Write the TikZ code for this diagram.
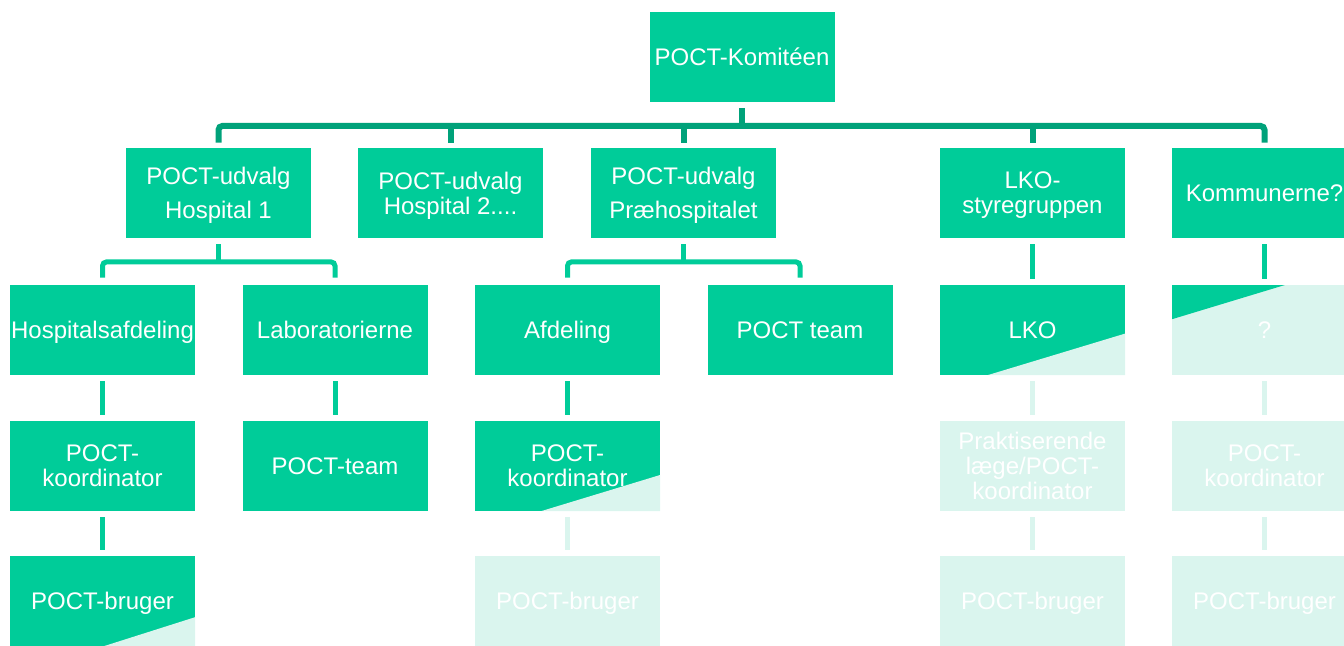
\documentclass[tikz,border=0pt]{standalone}
\usepackage{fontspec}
\setmainfont{Liberation Sans}
\usetikzlibrary{calc}
\definecolor{pgreen}{HTML}{00CC99}
\definecolor{pdark}{HTML}{00A27A}
\definecolor{pfade}{HTML}{DAF5EE}
\begin{document}
\begin{tikzpicture}[x=0.5pt,y=-0.5pt,
  box/.style={fill=pgreen, text=white, minimum width=92.5pt, minimum height=45pt,
    inner sep=0pt, align=center, text depth=0pt, font=\fontsize{12pt}{12.5pt}\selectfont},
  fadebox/.style={box, fill=pfade},
  cut/.style 2 args={path picture={\fill[pfade]
    ($(path picture bounding box.south west)!#1!(path picture bounding box.south east)$)
    -- (path picture bounding box.south east)
    -- ($(path picture bounding box.south east)!#2!(path picture bounding box.north east)$) -- cycle;}},
  cutinv/.style 2 args={path picture={\fill[pgreen]
    (path picture bounding box.north west)
    -- ($(path picture bounding box.north west)!#1!(path picture bounding box.north east)$)
    -- ($(path picture bounding box.north west)!#2!(path picture bounding box.south west)$) -- cycle;}},
  topline/.style={draw=pdark, line width=3pt},
  subline/.style={draw=pgreen, line width=2.5pt},
  fadeline/.style={draw=pfade, line width=2.5pt}]
\useasboundingbox (0,0) rectangle (1344,645);

% nodes
\node[box] (top) at (742,56.5) {POCT-Komitéen};
\node[box] (h1) at (218.5,193) {POCT-udvalg\\[4.5pt]Hospital 1};
\node[box] (h2) at (450.5,193) {POCT-udvalg\\Hospital 2....};
\node[box] (pr) at (683.5,193) {POCT-udvalg\\[4.5pt]Præhospitalet};
\node[box] (lkos) at (1032.5,193) {LKO-\\styregruppen};
\node[box] (kom) at (1264.5,193) {Kommunerne?};

\node[box] (ha) at (102.5,330) {Hospitalsafdeling};
\node[box] (lab) at (335,330) {Laboratorierne};
\node[box] (afd) at (567.5,330) {Afdeling};
\node[box] (pt) at (800,330) {POCT team};
\node[box, cut={0.26}{0.46}] (lko) at (1032.5,330) {LKO};
\node[fadebox, cutinv={0.61}{0.38}] (q) at (1264.5,330) {?};

\node[box] (k1) at (102.5,466) {POCT-\\koordinator};
\node[box] (lt) at (335,466) {POCT-team};
\node[box, cut={0.36}{0.40}] (k2) at (567.5,466) {POCT-\\koordinator};
\node[fadebox] (k3) at (1032.5,466) {Praktiserende\\læge/POCT-\\koordinator};
\node[fadebox] (k4) at (1264.5,466) {POCT-\\koordinator};

\node[box, cut={0.51}{0.32}] (b1) at (102.5,601) {POCT-bruger};
\node[fadebox] (b2) at (567.5,601) {POCT-bruger};
\node[fadebox] (b3) at (1032.5,601) {POCT-bruger};
\node[fadebox] (b4) at (1264.5,601) {POCT-bruger};

% top tree
\coordinate (bus) at ($(top.south)+(0,24)$);
\draw[topline] ($(top.south)+(0,6)$) -- (bus);
\draw[topline, rounded corners=2pt] ($(h1.north)+(0,-5)$) |- (bus) -| ($(kom.north)+(0,-5)$);
\foreach \n in {h2,pr,lkos} \draw[topline] (\n |- bus) -- ($(\n.north)+(0,-5)$);

% sub trees
\coordinate (hb) at ($(h1.south)+(0,23.5)$);
\draw[subline] ($(h1.south)+(0,6)$) -- (hb);
\draw[subline, rounded corners=2pt] ($(ha.north)+(0,-7)$) |- (hb) -| ($(lab.north)+(0,-7)$);
\coordinate (pb) at ($(pr.south)+(0,23.5)$);
\draw[subline] ($(pr.south)+(0,6)$) -- (pb);
\draw[subline, rounded corners=2pt] ($(afd.north)+(0,-7)$) |- (pb) -| ($(pt.north)+(0,-7)$);

% vertical connectors
\foreach \a/\b in {lkos/lko, kom/q, ha/k1, lab/lt, afd/k2, k1/b1}
  \draw[subline] ($(\a.south)+(0,6)$) -- ($(\b.north)+(0,-6)$);
\foreach \a/\b in {k2/b2, lko/k3, k3/b3, q/k4, k4/b4}
  \draw[fadeline] ($(\a.south)+(0,6)$) -- ($(\b.north)+(0,-6)$);
\end{tikzpicture}
\end{document}
